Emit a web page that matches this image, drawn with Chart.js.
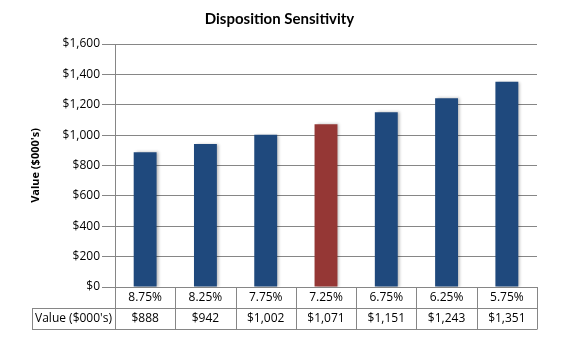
<!DOCTYPE html>
<html>
<head>
<meta charset="utf-8">
<script src="https://cdn.jsdelivr.net/npm/chart.js@4.4.1/dist/chart.umd.min.js"></script>
<style>
  html, body { margin: 0; padding: 0; background: #ffffff; }
  #wrap { width: 571px; height: 350px; position: relative; }
</style>
</head>
<body>
<div id="wrap"><canvas id="c" width="571" height="350"></canvas></div>
<script>
const chartTitle = 'Disposition Sensitivity';
const seriesName = "Value ($000's)";
const rates = ['8.75%', '8.25%', '7.75%', '7.25%', '6.75%', '6.25%', '5.75%'];
const values = [888, 942, 1002, 1071, 1151, 1243, 1351];
const highlightIndex = 3;
const yTicks = [0, 200, 400, 600, 800, 1000, 1200, 1400, 1600];

const TFONT = 'Lato, "Open Sans", sans-serif';
const FONT = '"Open Sans", Lato, sans-serif';
const FS = 12;
const BLUE = '#1F497D';
const RED = '#953735';
const GRID = '#868686';
const ROW_H = 21;

function money(v) { return '$' + Number(v).toLocaleString('en-US'); }

const labels = rates.map((r, i) => [r, money(values[i])]);

const shadowPlugin = {
  id: 'barShadow',
  beforeDatasetsDraw(chart) {
    const ctx = chart.ctx;
    ctx.save();
    ctx.shadowColor = 'rgba(0,0,0,0.28)';
    ctx.shadowBlur = 3;
    ctx.shadowOffsetX = 2;
    ctx.shadowOffsetY = 0;
  },
  afterDatasetsDraw(chart) {
    chart.ctx.restore();
  }
};

const tablePlugin = {
  id: 'dataTable',
  afterDraw(chart) {
    const ctx = chart.ctx;
    const x = chart.scales.x;
    const left = 32;
    const right = x.right;
    const top = x.top;
    const mid = Math.round(top + ROW_H) + 0.5;
    const bot = Math.round(top + ROW_H * 2) + 0.5;
    const n = values.length;
    const half = (x.getPixelForValue(1) - x.getPixelForValue(0)) / 2;
    ctx.save();
    ctx.strokeStyle = GRID;
    ctx.lineWidth = 1;
    ctx.beginPath();
    ctx.moveTo(left, mid); ctx.lineTo(right, mid);
    ctx.moveTo(left, bot); ctx.lineTo(right, bot);
    ctx.moveTo(left + 0.5, mid); ctx.lineTo(left + 0.5, bot);
    for (let i = 0; i <= n; i++) {
      const px = Math.round(x.getPixelForValue(0) - half + i * 2 * half) + 0.5;
      ctx.moveTo(px, top); ctx.lineTo(px, bot);
    }
    ctx.stroke();
    ctx.fillStyle = '#000';
    ctx.font = FS + 'px ' + FONT;
    ctx.textAlign = 'center';
    ctx.textBaseline = 'middle';
    ctx.fillText(seriesName, (left + x.left) / 2, top + ROW_H * 1.5);
    ctx.restore();
  }
};

new Chart(document.getElementById('c'), {
  type: 'bar',
  data: {
    labels: labels,
    datasets: [{
      label: seriesName,
      data: values,
      backgroundColor: values.map((v, i) => i === highlightIndex ? RED : BLUE),
      borderWidth: 0,
      barPercentage: 0.38,
      categoryPercentage: 1.0
    }]
  },
  options: {
    responsive: false,
    animation: false,
    devicePixelRatio: 1,
    layout: { padding: { left: 22, right: 34, top: 0, bottom: 21 } },
    plugins: {
      legend: { display: false },
      tooltip: { enabled: false },
      title: {
        display: true,
        text: chartTitle,
        color: '#000',
        font: { family: TFONT, size: 15, weight: 'bold' },
        padding: { top: 10, bottom: 16 }
      }
    },
    scales: {
      x: {
        offset: true,
        grid: { display: false, drawTicks: false },
        border: { display: true, color: GRID },
        afterFit(scale) { scale.height = ROW_H * 2; },
        ticks: {
          padding: 0,
          color: '#000',
          font: { family: FONT, size: FS, lineHeight: ROW_H / FS },
          maxRotation: 0,
          autoSkip: false
        }
      },
      y: {
        min: 0,
        max: 1600,
        afterBuildTicks(scale) { scale.ticks = yTicks.map(v => ({ value: v })); },
        afterFit(scale) { scale.width = 93; },
        grid: { color: GRID, tickLength: 13 },
        border: { display: true, color: GRID },
        ticks: {
          padding: 2,
          color: '#000',
          font: { family: FONT, size: FS },
          callback: v => money(v)
        },
        title: {
          display: true,
          text: seriesName,
          color: '#000',
          font: { family: FONT, size: 11, weight: 'bold' },
          padding: { top: 7, bottom: 0 }
        }
      }
    }
  },
  plugins: [shadowPlugin, tablePlugin]
});
</script>
</body>
</html>
